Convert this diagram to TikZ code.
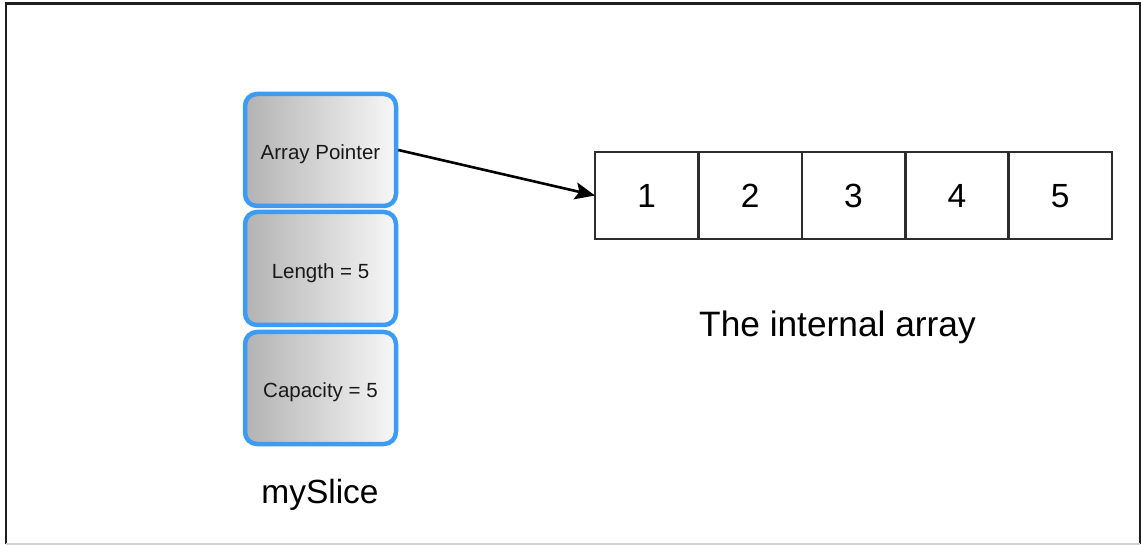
\documentclass[tikz,border=0pt]{standalone}
\usepackage{fontspec}
\setmainfont{Liberation Sans}
\usetikzlibrary{arrows.meta}
\definecolor{boxblue}{RGB}{59,155,245}
\definecolor{framecol}{RGB}{30,30,30}
\definecolor{cellline}{RGB}{45,45,45}
\begin{document}
\begin{tikzpicture}[x=1pt,y=-1pt,
  slot/.style={draw=boxblue, line width=4.5pt, rounded corners=12pt,
    left color=gray!60, right color=gray!6, minimum width=151pt,
    inner sep=0pt, text height=20pt, text depth=0pt,
    font=\fontsize{20.5}{24}\selectfont, text=black!90},
  cell/.style={draw=cellline, line width=2.6pt, minimum width=103.4pt,
    minimum height=87pt, inner sep=0pt, outer sep=0pt,
    text height=24pt, text depth=0pt, font=\fontsize{33.5}{38}\selectfont},
  caption/.style={anchor=base, text=black},
  pointer/.style={line width=2.6pt, -{Stealth[length=20pt,width=17pt,inset=4pt]}}]
\useasboundingbox (0,0) rectangle (1141,545);
% frame
\draw[framecol, line width=2.5pt] (6,544) -- (6,3.5) -- (1140,3.5) -- (1140,544);
\draw[gray!35, line width=1.5pt] (6,544) -- (1140,544);
% slice header
\node[slot, minimum height=112pt] (ap) at (320.5,150) {Array Pointer};
\node[slot, minimum height=113pt] (len) at (320.5,268.5) {Length = 5};
\node[slot, minimum height=112pt] (cap) at (320.5,388) {Capacity = 5};
\node[caption, font=\fontsize{33.5}{40}\selectfont] (ms) at (320,503) {mySlice};
% array
\node[cell] (c1) at (646.7,195.5) {1};
\node[cell] (c2) at (750.1,195.5) {2};
\node[cell] (c3) at (853.5,195.5) {3};
\node[cell] (c4) at (956.9,195.5) {4};
\node[cell] (c5) at (1060.3,195.5) {5};
\node[caption, font=\fontsize{35.3}{40}\selectfont] (ia) at (837.5,337) {The internal array};
% pointer
\draw[pointer] (ap.east) -- (c1.west);
\end{tikzpicture}
\end{document}
